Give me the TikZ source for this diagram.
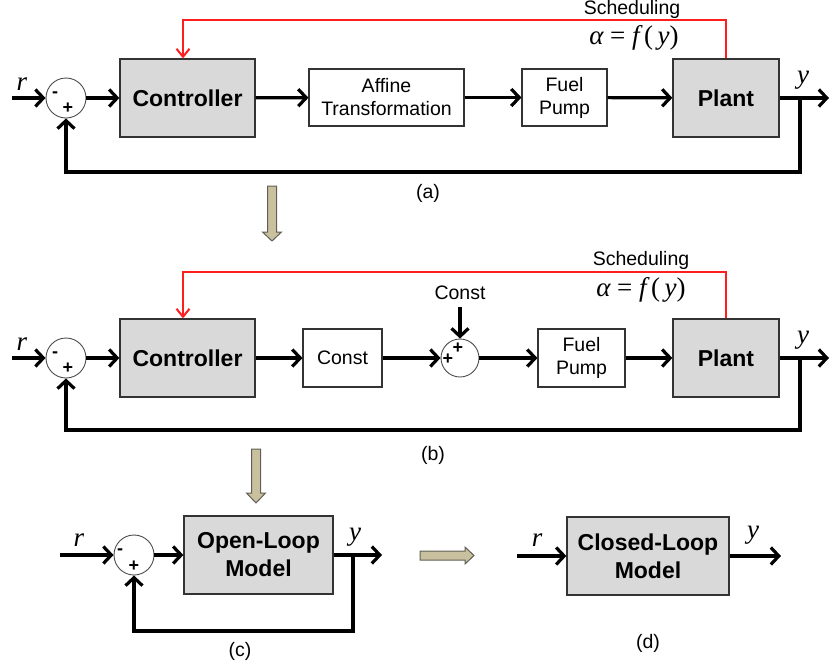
\documentclass[tikz,border=0pt]{standalone}
\usepackage{fontspec}
\setmainfont{Liberation Sans}
\newfontfamily\tms{Liberation Serif}
\usetikzlibrary{arrows.meta}
\definecolor{boxgray}{RGB}{217,217,217}
\definecolor{khaki}{RGB}{200,192,158}
\definecolor{khakiline}{RGB}{95,95,85}
\definecolor{schedred}{RGB}{255,30,30}
\tikzset{
  gbox/.style={draw=black!80, line width=1.3pt, fill=boxgray, font=\fontsize{23}{28}\selectfont\bfseries, align=center, inner sep=0pt},
  wbox/.style={draw=black!80, line width=1.1pt, fill=white, font=\fontsize{19.5}{23}\selectfont, align=center, inner sep=0pt},
  sumc/.style={circle, draw=black!70, line width=0.9pt, fill=white, minimum size=40pt, inner sep=0pt},
  sig/.style={font=\fontsize{18}{18}\selectfont\bfseries, inner sep=0pt},
  lab/.style={font=\fontsize{19.5}{22}\selectfont, inner sep=0pt},
  var/.style={font=\tms\itshape\fontsize{27}{27}\selectfont, inner sep=0pt},
  alab/.style={font=\tms\fontsize{27}{27}\selectfont, inner sep=0pt},
  sigline/.style={line width=3.2pt, -{Straight Barb[length=8pt,width=17pt]}},
  schedline/.style={draw=schedred, line width=2pt, -{Straight Barb[length=8pt,width=13pt]}},
  garrow/.style={fill=khaki, draw=khakiline, line width=1pt, line join=miter}
}
\begin{document}
\begin{tikzpicture}[x=1pt,y=-1pt]
\useasboundingbox (0,0) rectangle (831,670);
% ---------------- (a)
\node[sumc] (sumA) at (66,98) {};
\node[sig] at (55,95) {-};
\node[sig] at (68,108) {+};
\node[gbox, minimum width=135pt, minimum height=78pt] (ctrlA) at (187.5,98) {Controller};
\node[wbox, minimum width=155pt, minimum height=57pt] (affA) at (386.5,97.5) {Affine\\Transformation};
\node[wbox, minimum width=85pt, minimum height=57pt] (fuelA) at (564.5,97.5) {Fuel\\Pump};
\node[gbox, minimum width=106pt, minimum height=78pt] (plantA) at (726,98) {Plant};
\coordinate (inA) at (12,98);
\coordinate (outA) at (829,98);
\coordinate (brA) at (800,98);
\coordinate (fbA) at (800,172);
\coordinate (schA) at (183,20);
\node[var] (rA) at (22,84) {r};
\node[var] (yA) at (803,80) {y};
\node[lab] (schtA) at (632,9) {Scheduling};
\node[alab] (alA) at (634,38) {{\itshape α} = {\itshape f}\,(\,{\itshape y})};
\node[lab] (capA) at (428,193) {(a)};
\draw[sigline] (inA) -- (sumA);
\draw[sigline] (sumA) -- (ctrlA);
\draw[sigline] (ctrlA) -- (affA);
\draw[sigline] (affA) -- (fuelA);
\draw[sigline] (fuelA) -- (plantA);
\draw[sigline] (plantA) -- (outA);
\draw[sigline] (brA) -- (fbA) -| (sumA.south);
\draw[schedline] (plantA.north) |- (schA) -- (schA |- ctrlA.north);
% gray arrow down 1
\draw[garrow] (267.5,186) -- (276.5,186) -- (276.5,232) -- (281.5,232) -- (272,241) -- (262.5,232) -- (267.5,232) -- cycle;
% ---------------- (b)
\node[sumc] (sumB) at (66,358) {};
\node[sig] at (55,355) {-};
\node[sig] at (68,368) {+};
\node[gbox, minimum width=135pt, minimum height=78pt] (ctrlB) at (187.5,358) {Controller};
\node[wbox, minimum width=79pt, minimum height=58pt] (constB) at (342.5,358) {Const};
\node[sumc, minimum size=38pt] (sum2B) at (460,358) {};
\node[sig] at (448,359) {+};
\node[sig] at (458,348) {+};
\node[lab] (constlB) at (460,293) {Const};
\coordinate (cinB) at (460,307);
\node[wbox, minimum width=87pt, minimum height=58pt] (fuelB) at (581.5,358) {Fuel\\Pump};
\node[gbox, minimum width=106pt, minimum height=78pt] (plantB) at (726,358) {Plant};
\coordinate (inB) at (12,358);
\coordinate (outB) at (829,358);
\coordinate (brB) at (800,358);
\coordinate (fbB) at (800,430);
\coordinate (schB) at (183,272);
\node[var] (rB) at (22,344) {r};
\node[var] (yB) at (803,340) {y};
\node[lab] (schtB) at (641,260) {Scheduling};
\node[alab] (alB) at (641,290) {{\itshape α} = {\itshape f}\,(\,{\itshape y})};
\node[lab] (capB) at (433,455) {(b)};
\draw[sigline] (inB) -- (sumB);
\draw[sigline] (sumB) -- (ctrlB);
\draw[sigline] (ctrlB) -- (constB);
\draw[sigline] (constB) -- (sum2B);
\draw[sigline] (cinB) -- (sum2B);
\draw[sigline] (sum2B) -- (fuelB);
\draw[sigline] (fuelB) -- (plantB);
\draw[sigline] (plantB) -- (outB);
\draw[sigline] (brB) -- (fbB) -| (sumB.south);
\draw[schedline] (plantB.north) |- (schB) -- (schB |- ctrlB.north);
% gray arrow down 2
\draw[garrow] (251.5,449) -- (260.5,449) -- (260.5,493) -- (265.5,493) -- (256,503) -- (246.5,493) -- (251.5,493) -- cycle;
% ---------------- (c)
\node[sumc] (sumC) at (134,555) {};
\node[sig] at (120,552) {-};
\node[sig] at (134,566) {+};
\node[gbox, minimum width=149pt, minimum height=78pt] (olC) at (258.5,555) {Open-Loop\\Model};
\coordinate (inC) at (60,555);
\coordinate (outC) at (382,555);
\coordinate (brC) at (353,555);
\coordinate (fbC) at (353,631);
\node[var] (rC) at (79,540) {r};
\node[var] (yC) at (355,537) {y};
\node[lab] (capC) at (240,651) {(c)};
\draw[sigline] (inC) -- (sumC);
\draw[sigline] (sumC) -- (olC);
\draw[sigline] (olC) -- (outC);
\draw[sigline] (brC) -- (fbC) -| (sumC.south);
% gray arrow right
\draw[garrow] (420,551) -- (465,551) -- (465,547) -- (474,555.5) -- (465,564) -- (465,560) -- (420,560) -- cycle;
% ---------------- (d)
\node[gbox, minimum width=162pt, minimum height=78pt] (clD) at (648,556) {Closed-Loop\\Model};
\coordinate (inD) at (517,556);
\coordinate (outD) at (781,556);
\node[var] (rD) at (537,540) {r};
\node[var] (yD) at (753,535) {y};
\node[lab] (capD) at (648,643) {(d)};
\draw[sigline] (inD) -- (clD);
\draw[sigline] (clD) -- (outD);
\end{tikzpicture}
\end{document}
